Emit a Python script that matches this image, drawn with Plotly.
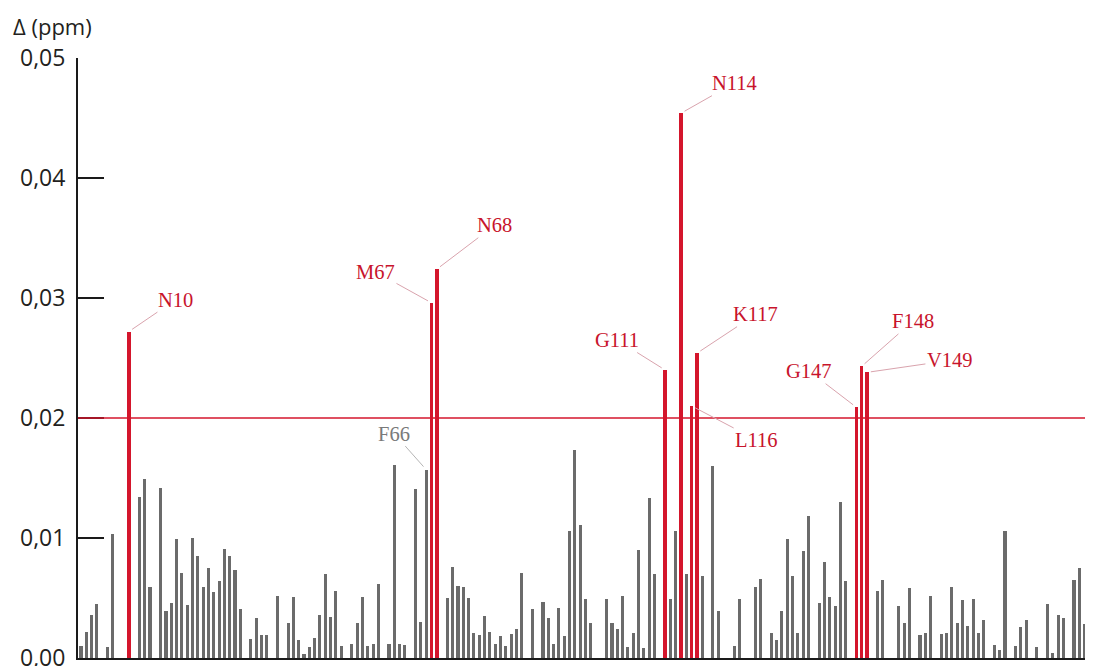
import plotly.graph_objects as go

# Residuos (numeración de la secuencia) y Δ de desplazamiento químico (ppm)
residuos = [
    1, 2, 3, 4, 6, 7, 10, 12, 13, 14, 16, 17, 18, 19, 20, 21, 22, 23, 24, 25,
    26, 27, 28, 29, 30, 31, 33, 34, 35, 36, 38, 40, 41, 42, 43, 44, 45, 46, 47, 48,
    49, 50, 52, 53, 54, 55, 56, 57, 59, 60, 61, 62, 64, 65, 66, 67, 68, 70, 71, 72,
    73, 74, 75, 76, 77, 78, 79, 80, 81, 82, 83, 84, 86, 88, 89, 90, 91, 92, 93, 94,
    95, 96, 97, 100, 101, 102, 103, 104, 105, 106, 107, 108, 109, 111, 112, 113, 114, 115, 116, 117,
    118, 120, 121, 124, 125, 128, 129, 131, 132, 133, 134, 135, 136, 137, 138, 140, 141, 142, 143, 144,
    145, 147, 148, 149, 151, 152, 155, 156, 157, 159, 160, 161, 163, 164, 165, 166, 167, 168, 169, 170,
    171, 173, 174, 175, 177, 178, 179, 181, 183, 184, 185, 186, 188, 189, 190, 191,
]
delta = [
    0.0010, 0.0022, 0.0036, 0.0045, 0.0009, 0.0103, 0.0272, 0.0134, 0.0149, 0.0059,
    0.0142, 0.0039, 0.0046, 0.0099, 0.0071, 0.0044, 0.0100, 0.0085, 0.0059, 0.0075,
    0.0055, 0.0064, 0.0091, 0.0085, 0.0073, 0.0041, 0.0016, 0.0033, 0.0019, 0.0019,
    0.0052, 0.0029, 0.0051, 0.0015, 0.0003, 0.0009, 0.0017, 0.0036, 0.0070, 0.0034,
    0.0056, 0.0010, 0.0012, 0.0029, 0.0051, 0.0010, 0.0012, 0.0062, 0.0012, 0.0161,
    0.0012, 0.0011, 0.0141, 0.0030, 0.0157, 0.0296, 0.0324, 0.0050, 0.0076, 0.0060,
    0.0059, 0.0050, 0.0021, 0.0019, 0.0035, 0.0022, 0.0012, 0.0018, 0.0010, 0.0020,
    0.0024, 0.0071, 0.0041, 0.0047, 0.0033, 0.0012, 0.0042, 0.0018, 0.0106, 0.0173,
    0.0111, 0.0049, 0.0029, 0.0049, 0.0029, 0.0024, 0.0052, 0.0009, 0.0021, 0.0090,
    0.0008, 0.0133, 0.0070, 0.0240, 0.0049, 0.0106, 0.0454, 0.0070, 0.0210, 0.0254,
    0.0068, 0.0160, 0.0039, 0.0010, 0.0049, 0.0059, 0.0066, 0.0021, 0.0015, 0.0039,
    0.0099, 0.0068, 0.0021, 0.0089, 0.0118, 0.0046, 0.0080, 0.0051, 0.0043, 0.0130,
    0.0064, 0.0209, 0.0243, 0.0238, 0.0056, 0.0065, 0.0043, 0.0029, 0.0058, 0.0019,
    0.0021, 0.0052, 0.0020, 0.0021, 0.0059, 0.0029, 0.0048, 0.0027, 0.0049, 0.0021,
    0.0032, 0.0011, 0.0007, 0.0106, 0.0010, 0.0026, 0.0032, 0.0009, 0.0045, 0.0004,
    0.0036, 0.0033, 0.0065, 0.0075, 0.0028, 0.0035,
]
umbral = 0.02

etiquetas_res = [10, 66, 67, 68, 111, 114, 116, 117, 147, 148, 149]
etiquetas_txt = ["N10", "F66", "M67", "N68", "G111", "N114", "L116", "K117", "G147", "F148", "V149"]

# desplazamiento (px) del texto respecto a la punta de la barra
desplaz = {
    "N10": (47, -32), "F66": (-32, -36), "M67": (-56, -31), "N68": (58, -44),
    "G111": (-48, -30), "N114": (53, -30), "L116": (65, 34), "K117": (59, -39),
    "G147": (-47, -36), "F148": (51, -45), "V149": (83, -12),
}

ROJO = "#d4162c"
GRIS = "#6b6b6b"

x_gris = [r for r, d in zip(residuos, delta) if d < umbral]
y_gris = [d for d in delta if d < umbral]
x_rojo = [r for r, d in zip(residuos, delta) if d >= umbral]
y_rojo = [d for d in delta if d >= umbral]

fig = go.Figure()
fig.add_trace(go.Bar(x=x_gris, y=y_gris, width=0.58, marker=dict(color=GRIS, line_width=0)))
fig.add_trace(go.Bar(x=x_rojo, y=y_rojo, width=0.66, marker=dict(color=ROJO, line_width=0)))

fig.add_hline(y=umbral, line=dict(color=ROJO, width=1.5))

valor = dict(zip(residuos, delta))
for r, t in zip(etiquetas_res, etiquetas_txt):
    rojo = valor[r] >= umbral
    ax, ay = desplaz[t]
    fig.add_annotation(
        x=r, y=valor[r], text=t, showarrow=True, arrowhead=0, arrowwidth=1,
        arrowcolor="#d9a3ad" if rojo else "#b5b5b5", standoff=4,
        ax=ax, ay=ay,
        font=dict(family="Liberation Serif", size=20.5, color="#c8142c" if rojo else "#7a7a7a"),
    )

fig.add_annotation(
    text="Δ (ppm)", xref="paper", yref="paper", x=-0.066, y=1.054,
    xanchor="left", yanchor="middle", showarrow=False,
    font=dict(family="Open Sans", size=22, color="#231f20"),
)

# la página añade 8 px de margen al cuerpo: la figura se reduce en esa medida
fig.update_layout(
    width=1085, height=658,
    margin=dict(l=70, r=0, t=50, b=8, autoexpand=False),
    plot_bgcolor="white", paper_bgcolor="white",
    showlegend=False, separators=",.",
    bargap=0,
    font=dict(family="Open Sans", size=23, color="#231f20"),
)
fig.update_xaxes(
    range=[0.435, 191.58], showgrid=False, zeroline=False,
    showline=True, linecolor="#1a1a1a", linewidth=2,
    showticklabels=False, ticks="",
)
fig.update_yaxes(
    range=[0, 0.05], tickvals=[0, 0.01, 0.02, 0.03, 0.04, 0.05], tickformat=".2f",
    showgrid=False, zeroline=False, automargin=False,
    showline=True, linecolor="#1a1a1a", linewidth=2,
    ticks="inside", ticklen=26, tickwidth=2, tickcolor="#1a1a1a",
    ticklabelstandoff=6, ticklabeloverflow="allow",
)

fig.write_html("out.html")
